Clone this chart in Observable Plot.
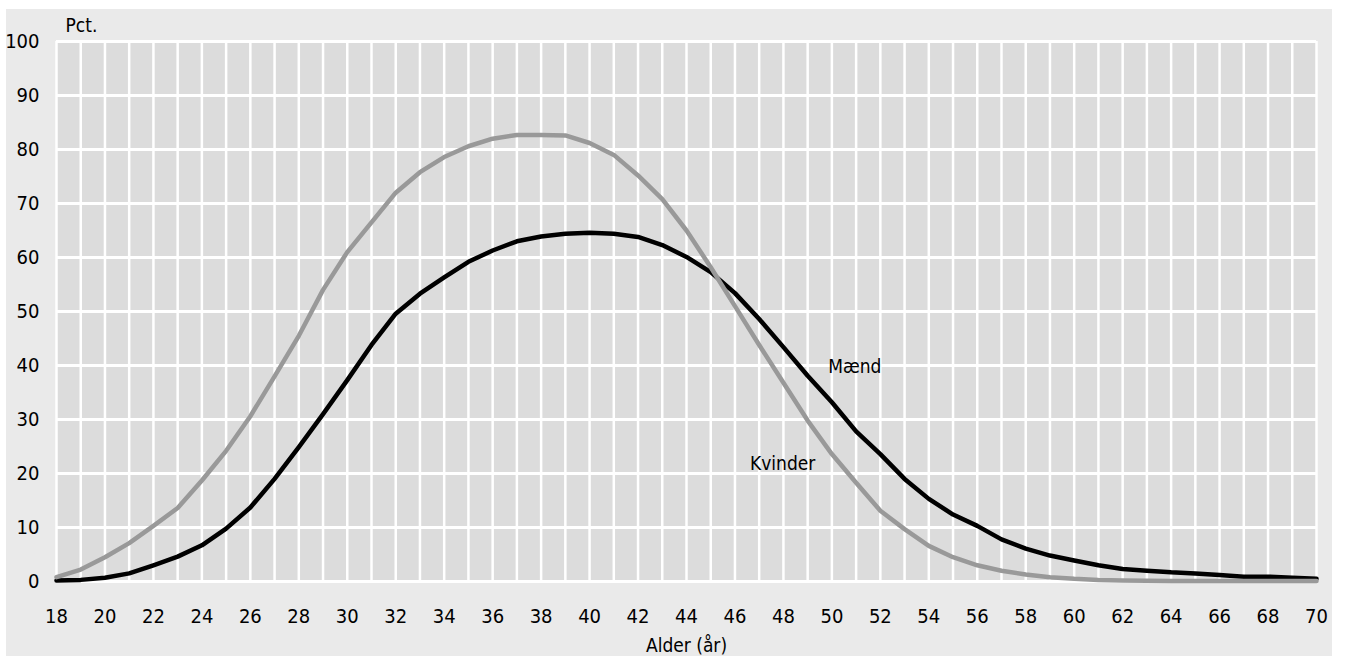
<!DOCTYPE html>
<html>
<head>
<meta charset="utf-8">
<script src="https://cdn.jsdelivr.net/npm/d3@7"></script>
<script src="https://cdn.jsdelivr.net/npm/@observablehq/plot@0.6"></script>
<style>
  html, body { margin: 0; padding: 0; background: #ffffff; }
  #wrap { position: relative; width: 1345px; height: 656px; overflow: hidden; }
  #bg { position: absolute; left: 6px; top: 9px; width: 1326px; height: 647px; background: #eaeaea; }
  #chart { position: absolute; left: 0; top: 0; }
  #chart svg { background: transparent; }
</style>
</head>
<body>
<div id="wrap"><div id="bg"></div><div id="chart"></div></div>
<script>
const ages = [18,19,20,21,22,23,24,25,26,27,28,29,30,31,32,33,34,35,36,37,38,39,40,41,42,43,44,
  45,46,47,48,49,50,51,52,53,54,55,56,57,58,59,60,61,62,63,64,65,66,67,68,69,70];
const kvinder = [0.8,2.2,4.5,7.1,10.3,13.6,18.7,24.2,30.6,38.0,45.5,54.0,61.0,66.5,72.0,75.8,78.6,80.6,82.0,82.7,82.7,82.6,81.2,79.0,75.2,70.8,65.0,
  58.2,51.0,43.8,36.8,29.8,23.6,18.3,13.1,9.7,6.6,4.5,3.0,2.0,1.3,0.8,0.5,0.3,0.2,0.15,0.1,0.1,0.1,0.1,0.1,0.1,0.1];
const maend = [0.2,0.3,0.7,1.5,3.0,4.6,6.7,9.8,13.7,19.0,24.9,31.0,37.3,43.8,49.6,53.3,56.3,59.2,61.3,63.0,63.9,64.4,64.6,64.4,63.8,62.3,60.1,
  57.3,53.4,48.6,43.4,38.1,33.2,27.8,23.6,19.0,15.3,12.4,10.3,7.8,6.1,4.8,3.9,3.0,2.3,2.0,1.7,1.5,1.2,0.9,0.9,0.7,0.5];
const xTicks = [18,20,22,24,26,28,30,32,34,36,38,40,42,44,46,48,50,52,54,56,58,60,62,64,66,68,70];
const yTicks = [0,10,20,30,40,50,60,70,80,90,100];
const seriesLabels = [
  {name: "Mænd", age: 49.85, value: 39.7},
  {name: "Kvinder", age: 46.62, value: 21.8}
];

const kData = ages.map((a, i) => ({age: a, value: kvinder[i]}));
const mData = ages.map((a, i) => ({age: a, value: maend[i]}));

const font = "'Liberation Sans Narrow', 'DejaVu Sans Condensed', sans-serif";

const chart = Plot.plot({
  width: 1345,
  height: 656,
  marginLeft: 56,
  marginRight: 29,
  marginTop: 41,
  marginBottom: 75,
  style: {fontFamily: font, fontSize: "20px", color: "#000", background: "transparent"},
  x: {domain: [18, 70], label: null},
  y: {domain: [0, 100], label: null},
  marks: [
    Plot.frame({fill: "#dcdcdc", stroke: null}),
    Plot.ruleX(ages, {stroke: "#ffffff", strokeWidth: 2.5}),
    Plot.ruleY(yTicks, {stroke: "#ffffff", strokeWidth: 3}),
    Plot.axisX(xTicks, {tickSize: 0, tickPadding: 27, fontSize: 20, label: null}),
    Plot.axisY(yTicks, {tickSize: 0, tickPadding: 17, fontSize: 20, label: null}),
    Plot.lineY(mData, {x: "age", y: "value", stroke: "#000000", strokeWidth: 4.5, strokeLinejoin: "round"}),
    Plot.lineY(kData, {x: "age", y: "value", stroke: "#999999", strokeWidth: 4.5, strokeLinejoin: "round"}),
    Plot.text(seriesLabels, {x: "age", y: "value", text: "name", textAnchor: "start", fontSize: 19, fill: "#000"}),
    Plot.text(["Pct."], {frameAnchor: "top-left", dx: 9, dy: -23, textAnchor: "start", fontSize: 19, fill: "#000"}),
    Plot.text(["Alder (år)"], {frameAnchor: "bottom", dy: 70, fontSize: 19, fill: "#000"})
  ]
});
document.getElementById("chart").appendChild(chart);
</script>
</body>
</html>
